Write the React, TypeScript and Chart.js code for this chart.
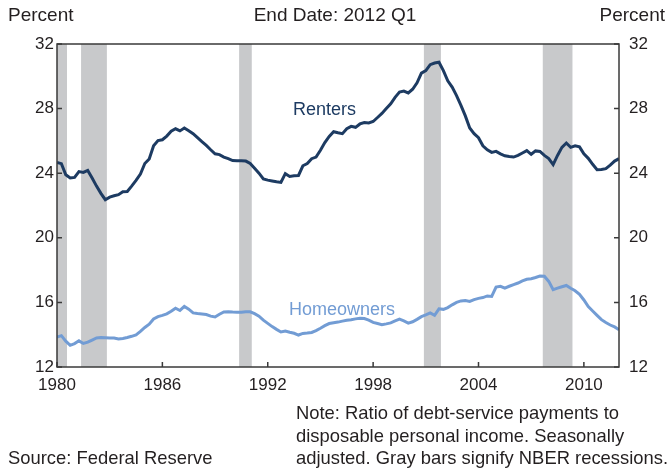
import { useEffect, useRef } from 'react';
import { Chart, registerables } from 'chart.js';

Chart.register(...registerables);

// Quarterly data, 1980 Q1 .. 2012 Q1
const START_YEAR = 1980;
const renters = [
  24.67, 24.59, 23.9, 23.7, 23.74, 24.1, 24.05, 24.17, 23.7, 23.2,
  22.75, 22.36, 22.52, 22.6, 22.67, 22.85, 22.87, 23.2, 23.55, 23.95,
  24.6, 24.88, 25.7, 26.02, 26.07, 26.3, 26.6, 26.75, 26.62, 26.8,
  26.63, 26.45, 26.2, 25.95, 25.72, 25.45, 25.2, 25.15, 25.0, 24.9,
  24.78, 24.77, 24.77, 24.75, 24.6, 24.3, 24.0, 23.65, 23.57, 23.52,
  23.47, 23.43, 23.97, 23.8, 23.84, 23.86, 24.46, 24.6, 24.9, 25.0,
  25.42, 25.9, 26.28, 26.57, 26.5, 26.45, 26.75, 26.9, 26.84, 27.05,
  27.14, 27.11, 27.2, 27.45, 27.7, 28.0, 28.3, 28.7, 29.02, 29.08,
  28.97, 29.2, 29.6, 30.2, 30.35, 30.72, 30.82, 30.87, 30.35, 29.72,
  29.33, 28.8, 28.2, 27.55, 26.8, 26.45, 26.2, 25.7, 25.45, 25.29,
  25.35, 25.2, 25.08, 25.03, 25.0, 25.1, 25.25, 25.4, 25.17, 25.38,
  25.35, 25.1, 24.9, 24.53, 25.1, 25.6, 25.87, 25.6, 25.7, 25.63,
  25.2, 24.92, 24.55, 24.22, 24.23, 24.28, 24.5, 24.75, 24.9,
];
const homeowners = [
  13.86, 13.94, 13.6, 13.34, 13.45, 13.62, 13.46, 13.54, 13.67, 13.8,
  13.82, 13.81, 13.8, 13.8, 13.73, 13.77, 13.83, 13.9, 13.99, 14.2,
  14.45, 14.65, 14.97, 15.12, 15.2, 15.29, 15.45, 15.64, 15.5, 15.75,
  15.58, 15.35, 15.31, 15.28, 15.25, 15.15, 15.1, 15.27, 15.41, 15.42,
  15.4, 15.39, 15.39, 15.42, 15.42, 15.3, 15.15, 14.9, 14.7, 14.5,
  14.33, 14.17, 14.22, 14.15, 14.09, 13.98, 14.08, 14.1, 14.14, 14.25,
  14.4, 14.56, 14.69, 14.74, 14.78, 14.84, 14.89, 14.93, 14.98, 15.02,
  15.0, 14.9, 14.76, 14.69, 14.62, 14.67, 14.73, 14.85, 14.96, 14.85,
  14.72, 14.8, 14.95, 15.12, 15.23, 15.35, 15.2, 15.6, 15.57, 15.68,
  15.85, 16.0, 16.09, 16.12, 16.06, 16.17, 16.25, 16.3, 16.4, 16.37,
  16.95, 17.0, 16.89, 17.0, 17.1, 17.2, 17.33, 17.43, 17.47, 17.54,
  17.63, 17.62, 17.3, 16.79, 16.88, 16.97, 17.05, 16.88, 16.72, 16.5,
  16.15, 15.74, 15.47, 15.2, 14.93, 14.75, 14.6, 14.48, 14.31,
];
// NBER recession spans (decimal years)
const recessions: [number, number][] = [
  [1980.0, 1980.57],
  [1981.37, 1982.84],
  [1990.37, 1991.09],
  [2000.89, 2001.86],
  [2007.66, 2009.35],
];
const xTickYears = [1980, 1986, 1992, 1998, 2004, 2010];
const yTickValues = [12, 16, 20, 24, 28, 32];

const FONT = '"Liberation Sans", Arial, Helvetica, sans-serif';
const TEXT = '#231f20';
const AXIS = '#3a3a3a';
const RENTERS_COLOR = '#1d3b62';
const HOME_COLOR = '#729cd4';

const toPoints = (arr: number[]) => arr.map((v, i) => ({ x: START_YEAR + i / 4, y: v }));

const decor = {
  id: 'decor',
  beforeDatasetsDraw(chart: any) {
    const { ctx, chartArea } = chart;
    const xs = chart.scales.x;
    ctx.save();
    ctx.fillStyle = '#c8c9cb';
    for (const [a, b] of recessions) {
      const x1 = xs.getPixelForValue(a);
      const x2 = xs.getPixelForValue(b);
      ctx.fillRect(x1, chartArea.top, x2 - x1, chartArea.bottom - chartArea.top);
    }
    ctx.restore();
  },
  afterDatasetsDraw(chart: any) {
    const { ctx, chartArea } = chart;
    const xs = chart.scales.x;
    const ys = chart.scales.y;
    const { left, right, top, bottom } = chartArea;
    ctx.save();
    ctx.strokeStyle = AXIS;
    ctx.lineWidth = 1.5;
    ctx.strokeRect(left, top, right - left, bottom - top);
    ctx.beginPath();
    for (const v of yTickValues) {
      const y = ys.getPixelForValue(v);
      ctx.moveTo(left, y);
      ctx.lineTo(left + 5, y);
      ctx.moveTo(right, y);
      ctx.lineTo(right - 5, y);
    }
    for (const yr of xTickYears) {
      const x = xs.getPixelForValue(yr);
      ctx.moveTo(x, bottom);
      ctx.lineTo(x, bottom - 5);
    }
    ctx.stroke();

    // series labels
    ctx.font = `18px ${FONT}`;
    ctx.textBaseline = 'middle';
    ctx.textAlign = 'left';
    ctx.fillStyle = RENTERS_COLOR;
    ctx.fillText('Renters', xs.getPixelForValue(1993.44), ys.getPixelForValue(27.93));
    ctx.fillStyle = HOME_COLOR;
    ctx.fillText('Homeowners', xs.getPixelForValue(1993.21), ys.getPixelForValue(15.55));

    // header / footer text
    ctx.fillStyle = TEXT;
    ctx.font = `19px ${FONT}`;
    ctx.textAlign = 'left';
    ctx.fillText('Percent', 8, 16);
    ctx.textAlign = 'center';
    ctx.fillText('End Date: 2012 Q1', 335, 16);
    ctx.textAlign = 'right';
    ctx.fillText('Percent', 665, 16);

    ctx.font = `18.4px ${FONT}`;
    ctx.textAlign = 'left';
    ctx.fillText('Note: Ratio of debt-service payments to', 296, 414);
    ctx.fillText('disposable personal income. Seasonally', 296, 437);
    ctx.fillText('adjusted. Gray bars signify NBER recessions.', 296, 459);
    ctx.fillText('Source: Federal Reserve', 8, 459);
    ctx.restore();
  },
};

export default function App() {
  const ref = useRef<HTMLCanvasElement>(null);
  useEffect(() => {
    document.body.style.margin = '0';
    const canvas = ref.current!;
    const tickFont = { family: FONT, size: 17 };
    const chart = new Chart(canvas, {
      type: 'line',
      data: {
        datasets: [
          {
            label: 'Renters',
            data: toPoints(renters),
            borderColor: RENTERS_COLOR,
            borderWidth: 3,
            pointRadius: 0,
            tension: 0,
            yAxisID: 'y',
          },
          {
            label: 'Homeowners',
            data: toPoints(homeowners),
            borderColor: HOME_COLOR,
            borderWidth: 3,
            pointRadius: 0,
            tension: 0,
            yAxisID: 'y',
          },
        ],
      },
      options: {
        responsive: false,
        devicePixelRatio: 1,
        animation: false,
        layout: { padding: { top: 44, left: 0, right: 0, bottom: 0 } },
        plugins: { legend: { display: false }, tooltip: { enabled: false } },
        scales: {
          x: {
            type: 'linear',
            position: 'bottom',
            min: 1980,
            max: 2012,
            grid: { display: false, drawTicks: false },
            border: { display: false },
            ticks: {
              stepSize: 6,
              font: tickFont,
              color: TEXT,
              padding: 8,
              maxRotation: 0,
              callback: (v: any) => String(v),
            },
            afterBuildTicks: (scale: any) => {
              scale.ticks = xTickYears.map((v) => ({ value: v }));
            },
            afterFit: (scale: any) => {
              scale.height = 104;
            },
          },
          y: {
            type: 'linear',
            position: 'left',
            min: 12,
            max: 32,
            grid: { display: false, drawTicks: false },
            border: { display: false },
            ticks: { stepSize: 4, font: tickFont, color: TEXT, padding: 3 },
            afterBuildTicks: (scale: any) => {
              scale.ticks = yTickValues.map((v) => ({ value: v }));
            },
            afterFit: (scale: any) => {
              scale.width = 57;
            },
          },
          y2: {
            type: 'linear',
            position: 'right',
            min: 12,
            max: 32,
            grid: { display: false, drawTicks: false },
            border: { display: false },
            ticks: { stepSize: 4, font: tickFont, color: TEXT, padding: 10 },
            afterBuildTicks: (scale: any) => {
              scale.ticks = yTickValues.map((v) => ({ value: v }));
            },
            afterFit: (scale: any) => {
              scale.width = 52;
            },
          },
        },
      },
      plugins: [decor],
    });
    return () => chart.destroy();
  }, []);
  return (
    <div style={{ width: 671, height: 471, position: 'relative' }}>
      <canvas ref={ref} width={671} height={471} style={{ width: 671, height: 471, display: 'block' }} />
    </div>
  );
}
